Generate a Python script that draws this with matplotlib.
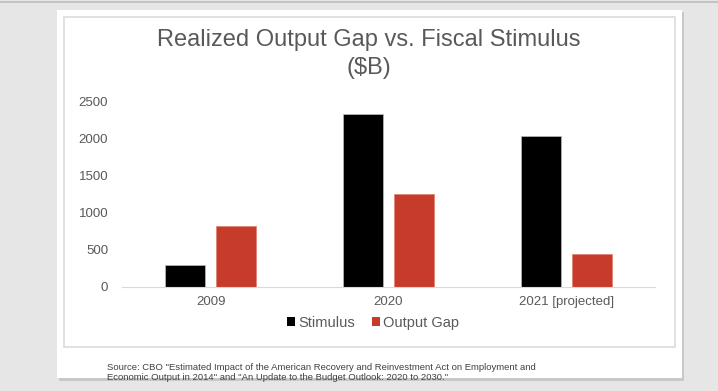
import matplotlib.pyplot as plt
from matplotlib.patches import Rectangle, Patch
import numpy as np

plt.rcParams['font.family'] = ['Liberation Sans', 'DejaVu Sans']

# Values in $B
categories = ['2009', '2020', '2021 [projected]']
stimulus = [290, 2330, 2030]
output_gap = [810, 1250, 435]
y_ticks = [0, 500, 1000, 1500, 2000, 2500]

TEXT_GREY = '#595959'
RED = '#c73b2b'

fig = plt.figure(figsize=(7.18, 3.91), dpi=100)
fig.patch.set_facecolor('#e6e6e6')

# slide frame with a soft shadow
fig.patches.append(Rectangle((59 / 718, 1 - 381 / 391), 625 / 718, 369 / 391,
                             transform=fig.transFigure, facecolor='#c8c8c8',
                             edgecolor='none', zorder=-3))
fig.patches.append(Rectangle((57 / 718, 1 - 378 / 391), 625 / 718, 368 / 391,
                             transform=fig.transFigure, facecolor='white',
                             edgecolor='none', zorder=-2))
fig.patches.append(Rectangle((64 / 718, 1 - 347 / 391), 611 / 718, 330 / 391,
                             transform=fig.transFigure, facecolor='white',
                             edgecolor='#dcdcdc', linewidth=1.2, zorder=-1))
fig.add_artist(plt.Line2D([0, 1], [1 - 2 / 391, 1 - 2 / 391],
                          color='#bdbdbd', linewidth=1.2))

ax = fig.add_axes([122 / 718, 1 - 286.5 / 391, 533 / 718, 185.5 / 391])
ax.set_zorder(5)
ax.set_facecolor('none')
x = np.arange(len(categories))
w = 0.225
ax.bar(x - 0.143, stimulus, w, color='black', edgecolor='#bbbbbb',
       linewidth=0.5, label='Stimulus')
ax.bar(x + 0.143, output_gap, w, color=RED, edgecolor='#e08070',
       linewidth=0.5, label='Output Gap')

ax.set_xlim(-0.5, 2.5)
ax.set_ylim(0, 2500)
ax.set_yticks(y_ticks)
ax.set_xticks(x)
ax.set_xticklabels(categories)
ax.tick_params(axis='both', length=0, colors=TEXT_GREY, labelsize=9.5)
ax.tick_params(axis='y', pad=10)
ax.tick_params(axis='x', pad=7)
for side in ['top', 'right', 'left']:
    ax.spines[side].set_visible(False)
ax.spines['bottom'].set_color('#d9d9d9')

fig.text(369 / 718, 1 - 40 / 391, 'Realized Output Gap vs. Fiscal Stimulus',
         ha='center', va='center', fontsize=17, color=TEXT_GREY)
fig.text(369 / 718, 1 - 68 / 391, '($B)', ha='center', va='center',
         fontsize=17, color=TEXT_GREY)

handles = [Patch(facecolor='black'), Patch(facecolor=RED)]
leg = fig.legend(handles, ['Stimulus', 'Output Gap'], ncol=2, frameon=False,
                 loc='center', bbox_to_anchor=(373 / 718, 1 - 323 / 391),
                 handlelength=0.55, handleheight=0.55, handletextpad=0.2,
                 columnspacing=1.2, fontsize=10.5)
for t in leg.get_texts():
    t.set_color(TEXT_GREY)

fig.text(107 / 718, 1 - 367 / 391,
         'Source: CBO "Estimated Impact of the American Recovery and '
         'Reinvestment Act on Employment and',
         ha='left', va='center', fontsize=6.8, color='#404040')
fig.text(107 / 718, 1 - 378 / 391,
         'Economic Output in 2014" and "An Update to the Budget Outlook: '
         '2020 to 2030."',
         ha='left', va='center', fontsize=6.8, color='#404040')

fig.savefig('out.png', dpi=100, facecolor=fig.get_facecolor())
